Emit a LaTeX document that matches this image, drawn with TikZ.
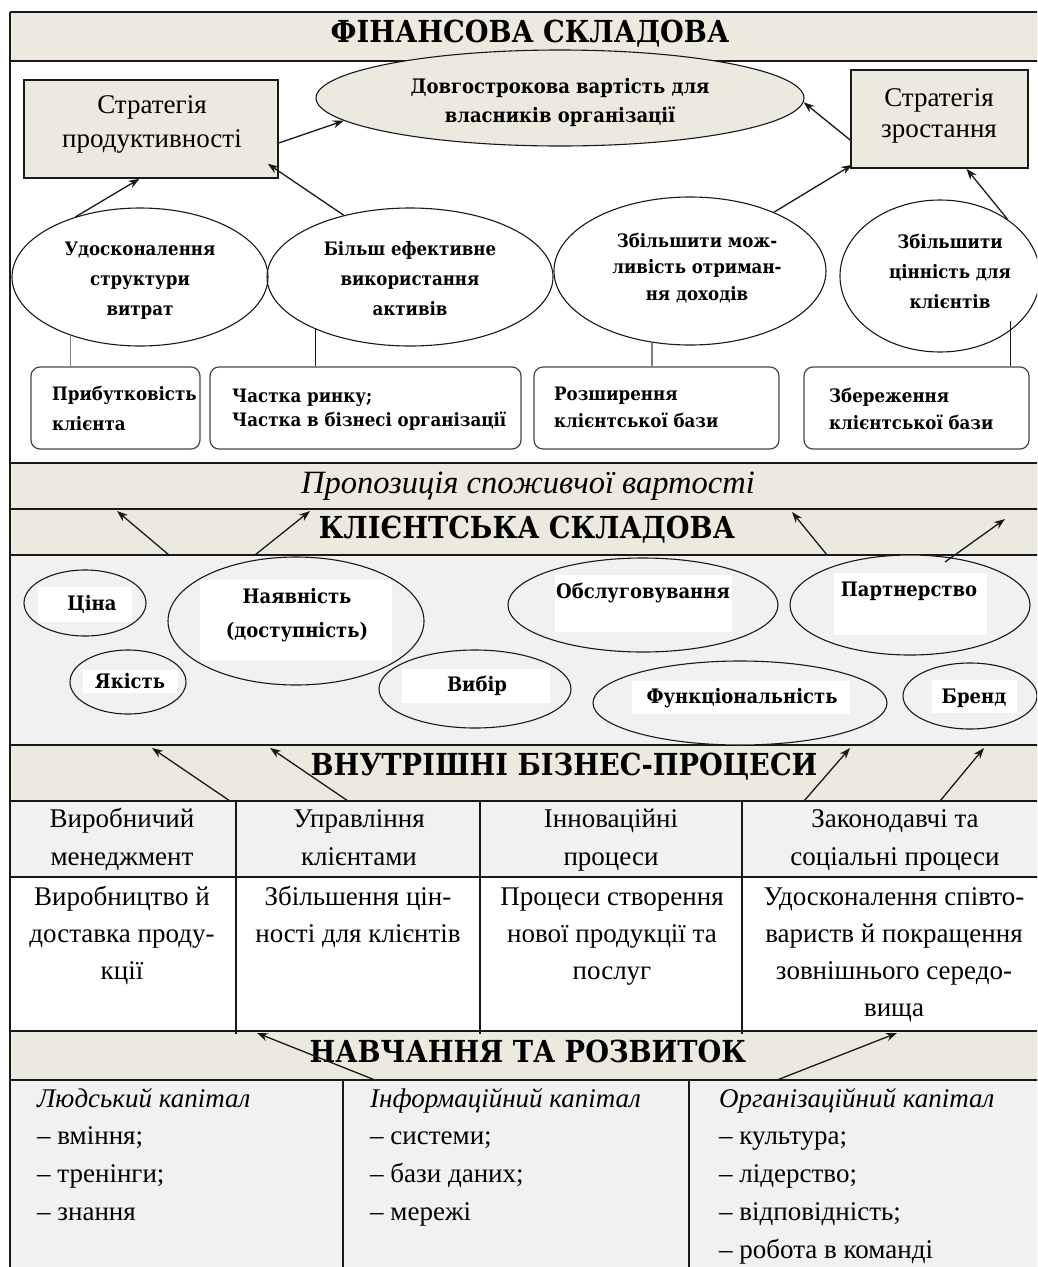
\documentclass[tikz,border=0pt]{standalone}
\usepackage{fontspec}
\setmainfont{Liberation Serif}
\IfFontExistsTF{DejaVu Serif Condensed Bold}{\newfontfamily\bB{DejaVu Serif Condensed Bold}}{\newfontfamily\bB{DejaVu Serif Bold}[Scale=0.9]}
\usetikzlibrary{shapes.geometric,calc,arrows.meta}
\definecolor{beige}{RGB}{236,233,223}
\definecolor{lgray}{RGB}{241,241,241}
\definecolor{ink}{RGB}{25,25,25}
\newcommand{\tlines}[6]{%
  \foreach \tlx [count=\tlk] in {#6} {\node[#1] (#2-\tlk) at (#3,{#4+(\tlk-1)*#5}) {\tlx};}}
\begin{document}
\begin{tikzpicture}[x=1pt,y=-1pt,
 sep/.style={draw=ink,line width=1.8pt},
 ell/.style={ellipse,draw=ink,line width=1.1pt,inner sep=0pt},
 arr/.style={draw=ink,line width=1.3pt,-{Stealth[length=11pt,width=8pt]}},
 vline/.style={draw=ink,line width=1.3pt},
 gline/.style={draw=gray,line width=1.3pt},
 ttl/.style={font=\bB\fontsize{30.3}{30.3}\selectfont,anchor=base,inner sep=0pt},
 bod/.style={font=\fontsize{27}{27}\selectfont,anchor=base,inner sep=0pt},
 bodl/.style={bod,anchor=base west},
 sml/.style={font=\bB\fontsize{18.5}{18.5}\selectfont,anchor=base,inner sep=0pt},
 smll/.style={sml,anchor=base west},
 eml/.style={font=\bB\fontsize{20}{20}\selectfont,anchor=base,inner sep=0pt},
 cst/.style={font=\bB\fontsize{20}{20}\selectfont,anchor=base,inner sep=0pt},
 wrect/.style={fill=white,inner sep=0pt},
 rbox/.style={draw=ink!80,line width=1.2pt,rounded corners=9pt,inner sep=0pt},
 sbox/.style={draw=ink,fill=beige,line width=1.6pt,inner sep=0pt},
]
\useasboundingbox (0,0) rectangle (1037,1267);
\begin{scope}
\clip (0,0) rectangle (1037,1267);
% backgrounds
\fill[white] (0,0) rectangle (1037,1267);
\fill[beige] (10,12) rectangle (1040,61);
\fill[beige] (10,463) rectangle (1040,555);
\fill[lgray] (10,555) rectangle (1040,745);
\fill[beige] (10,745) rectangle (1040,801);
\fill[lgray] (10,801) rectangle (1040,877);
\fill[beige] (10,1031) rectangle (1040,1080);
\fill[lgray] (10,1080) rectangle (1040,1267);
\foreach \yy in {12,61,463,509,555,745,801,877,1031,1080} \draw[sep] (10,\yy) -- (1040,\yy);
\draw[sep] (10,12) -- (10,1267);
\foreach \xx in {236,480,742} \draw[sep] (\xx,801) -- (\xx,1034);
\foreach \xx in {343,689} \draw[sep] (\xx,1080) -- (\xx,1267);

% titles
\node[ttl] (tfin) at (530,42) {ФІНАНСОВА СКЛАДОВА};
\node[font=\fontsize{32.5}{32.5}\selectfont\itshape,anchor=base,inner sep=0pt] (tprop) at (528,493) {Пропозиція споживчої вартості};
\node[ttl] (tcli) at (527,538) {КЛІЄНТСЬКА СКЛАДОВА};
\node[ttl] (tint) at (564,775) {ВНУТРІШНІ БІЗНЕС-ПРОЦЕСИ};
\node[ttl] (tlrn) at (528,1062) {НАВЧАННЯ ТА РОЗВИТОК};

% financial section
\node[ell,fill=beige,minimum width=488,minimum height=96] (E) at (560,98) {};
\tlines{eml}{Et}{560}{93}{29}{Довгострокова вартість для,власників організації}
\node[sbox,minimum width=254,minimum height=98] (b1) at (151,129) {};
\tlines{bod}{b1t}{152}{113}{34}{Стратегія,продуктивності}
\node[sbox,minimum width=177,minimum height=98] (b2) at (939.5,119) {};
\tlines{bod}{b2t}{939}{106}{31}{Стратегія,зростання}

\node[ell,minimum width=256,minimum height=138] (e1) at (140,277) {};
\tlines{sml}{e1t}{140}{255}{30}{Удосконалення,структури,витрат}
\node[ell,minimum width=286,minimum height=138] (e2) at (410,277) {};
\tlines{sml}{e2t}{410}{255}{30}{Більш ефективне,використання,активів}
\node[ell,minimum width=272,minimum height=148] (e3) at (690,271) {};
\tlines{sml}{e3t}{697}{247}{26.5}{Збільшити мож-,ливість отриман-,ня доходів}
\node[ell,minimum width=200,minimum height=152] (e4) at (940,276) {};
\tlines{sml}{e4t}{950}{248}{30}{Збільшити,цінність для,клієнтів}

\node[rbox,minimum width=169,minimum height=82] (p1) at (115.5,408) {};
\tlines{smll}{p1t}{52}{400}{30}{Прибутковість,клієнта}
\node[rbox,minimum width=311,minimum height=82] (p2) at (365.5,408) {};
\tlines{smll}{p2t}{232}{402}{24}{Частка ринку;,Частка в бізнесі організації}
\node[rbox,minimum width=245,minimum height=82] (p3) at (656.5,408) {};
\tlines{smll}{p3t}{554}{400}{27}{Розширення,клієнтської бази}
\node[rbox,minimum width=225,minimum height=82] (p4) at (916.5,408) {};
\tlines{smll}{p4t}{829}{402}{27}{Збереження,клієнтської бази}

\draw[gline] (e1.220) -- (e1.220 |- p1.north);
\draw[vline] (e2.209) -- (e2.209 |- p2.north);
\draw[gline] (e3.242) -- (e3.242 |- p3.north);
\coordinate (p4up) at ($(p4.north west)+(207,-45)$);
\draw[vline] (p4up) -- (p4up |- p4.north);

\draw[arr] (e1.137) -- (b1.257);
\draw[arr] (e2.137) -- ($(b1.south east)+(-11,-15)$);
\draw[arr] ($(b1.east)+(0,14)$) -- (E.186);
\draw[arr] ($(b2.west)+(0,21)$) -- (E.359);
\draw[arr] (e3.35) -- ($(b2.south west)+(2,-4)$);
\draw[arr] (e4.40) -- ($(b2.south)+(27,0)$);

% customer section
\node[ell,fill=lgray,minimum width=122,minimum height=66] (c1) at (85,603) {};
\node[wrect,minimum width=94,minimum height=35] (c1r) at (85,604.5) {};
\node[cst] (c1t) at (92,610) {Ціна};
\node[ell,fill=lgray,minimum width=116,minimum height=64] (c2) at (128,682) {};
\node[wrect,minimum width=95,minimum height=23] (c2r) at (130.5,681.5) {};
\node[cst] (c2t) at (130,688) {Якість};
\node[ell,fill=lgray,minimum width=256,minimum height=128] (c3) at (296,621) {};
\node[wrect,minimum width=192,minimum height=80] (c3r) at (296,620) {};
\tlines{cst}{c3t}{297}{603}{34}{Наявність,(доступність)}
\node[ell,fill=lgray,minimum width=192,minimum height=78] (c4) at (475,689) {};
\node[wrect,minimum width=148,minimum height=34] (c4r) at (476,686) {};
\node[cst] (c4t) at (477,691) {Вибір};
\node[ell,fill=lgray,minimum width=270,minimum height=94] (c5) at (643,605) {};
\node[wrect,minimum width=177,minimum height=57] (c5r) at (643.5,603.5) {};
\node[cst] (c5t) at (643,598) {Обслуговування};
\node[ell,fill=lgray,minimum width=240,minimum height=100] (c6) at (910,605) {};
\node[wrect,minimum width=153,minimum height=62] (c6r) at (910.5,604) {};
\node[cst] (c6t) at (909,596) {Партнерство};
\node[ell,fill=lgray,minimum width=294,minimum height=84] (c7) at (740,703) {};
\node[wrect,minimum width=218,minimum height=33] (c7r) at (741,697.5) {};
\node[cst] (c7t) at (742,703) {Функціональність};
\node[ell,fill=lgray,minimum width=134,minimum height=66] (c8) at (970,696) {};
\node[wrect,minimum width=85,minimum height=33] (c8r) at (974.5,696.5) {};
\node[cst] (c8t) at (974,703) {Бренд};

\coordinate (ka1) at (169,555); \coordinate (kb1) at (117,511);
\coordinate (ka2) at (255,555); \coordinate (kb2) at (310,511);
\coordinate (ka3) at (827,555); \coordinate (kb3) at (792,512);
\coordinate (ka4) at (945,562); \coordinate (kb4) at (1005,519);
\foreach \i in {1,...,4} \draw[arr] (ka\i) -- (kb\i);

% internal processes table
\tlines{bod}{r1a}{122}{827}{38.5}{Виробничий,менеджмент}
\tlines{bod}{r1b}{359}{827}{38.5}{Управління,клієнтами}
\tlines{bod}{r1c}{611}{827}{38.5}{Інноваційні,процеси}
\tlines{bod}{r1d}{895}{827}{38.5}{Законодавчі та,соціальні процеси}
\tlines{bod}{r2a}{122}{905}{37.3}{Виробництво й,доставка проду-,кції}
\tlines{bod}{r2b}{358}{905}{37.3}{Збільшення цін-,ності для клієнтів}
\tlines{bod}{r2c}{612}{905}{37.3}{Процеси створення,нової продукції та,послуг}
\tlines{bod}{r2d}{894}{905}{37.3}{Удосконалення співто-,вариств й покращення,зовнішнього середо-,вища}

\coordinate (ia1) at (230,801); \coordinate (ib1) at (152,748);
\coordinate (ia2) at (348,801); \coordinate (ib2) at (270,748);
\coordinate (ia3) at (804,801); \coordinate (ib3) at (850,748);
\coordinate (ia4) at (940,801); \coordinate (ib4) at (984,748);
\foreach \i in {1,...,4} \draw[arr] (ia\i) -- (ib\i);

% learning and growth
\tlines{bodl}{l1}{37}{1107}{37.75}{\textit{Людський капітал},– вміння;,– тренінги;,– знання}
\tlines{bodl}{l2}{370}{1107}{37.75}{\textit{Інформаційний капітал},– системи;,– бази даних;,– мережі}
\tlines{bodl}{l3}{719}{1107}{37.75}{\textit{Організаційний капітал},– культура;,– лідерство;,– відповідність;,– робота в команді}

\coordinate (la1) at (375,1080); \coordinate (lb1) at (257,1033);
\coordinate (la2) at (777,1080); \coordinate (lb2) at (897,1033);
\foreach \i in {1,2} \draw[arr] (la\i) -- (lb\i);
\end{scope}
\end{tikzpicture}
\end{document}
